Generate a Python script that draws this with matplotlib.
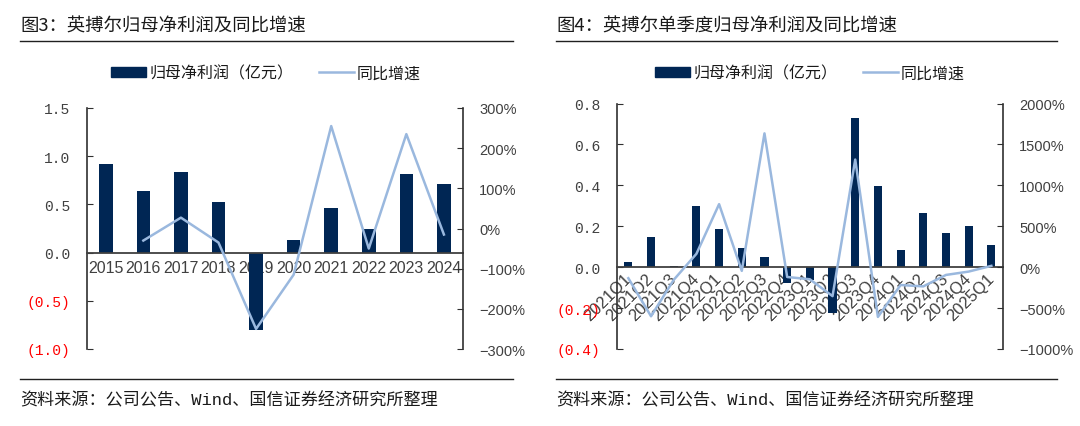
import matplotlib.pyplot as plt
import numpy as np
from matplotlib.lines import Line2D
from matplotlib.patches import Patch

# Annual data (figure 3)
years = ['2015', '2016', '2017', '2018', '2019', '2020', '2021', '2022', '2023', '2024']
annual_profit = [0.92, 0.64, 0.84, 0.53, -0.80, 0.13, 0.46, 0.25, 0.82, 0.71]
annual_yoy = [np.nan, -30, 27, -35, -250, -115, 255, -50, 235, -15]

# Quarterly data (figure 4)
quarters = ['2021Q1', '2021Q2', '2021Q3', '2021Q4', '2022Q1', '2022Q2', '2022Q3',
            '2022Q4', '2023Q1', '2023Q2', '2023Q3', '2023Q4', '2024Q1', '2024Q2',
            '2024Q3', '2024Q4', '2025Q1']
q_profit = [0.025, 0.148, 0.005, 0.30, 0.187, 0.092, 0.052, -0.078, -0.064, -0.224,
            0.73, 0.395, 0.085, 0.266, 0.167, 0.20, 0.106]
q_yoy = [-135, -600, -155, 163, 770, -45, 1635, -120, -148, -354, 1315, -608,
         -218, -235, -95, -54, 16]

left_ticks_a = [-1.0, -0.5, 0.0, 0.5, 1.0, 1.5]
left_labels_a = ['(1.0)', '(0.5)', '0.0', '0.5', '1.0', '1.5']
right_ticks_a = [-300, -200, -100, 0, 100, 200, 300]
right_labels_a = ['−300%', '−200%', '−100%', '0%', '100%', '200%', '300%']

left_ticks_b = [-0.4, -0.2, 0.0, 0.2, 0.4, 0.6, 0.8]
left_labels_b = ['(0.4)', '(0.2)', '0.0', '0.2', '0.4', '0.6', '0.8']
right_ticks_b = [-1000, -500, 0, 500, 1000, 1500, 2000]
right_labels_b = ['−1000%', '−500%', '0%', '500%', '1000%', '1500%', '2000%']

BAR = '#002654'
LINE = '#9ab8de'
TXT = '#404040'
CJK = ['Noto Sans CJK SC', 'DejaVu Sans']
MONO = ['Liberation Mono', 'Noto Sans CJK SC']
plt.rcParams['font.family'] = CJK


def draw_panel(fig, rect, cats, profit, yoy, lt, ll, rt, rl, rotate):
  ax = fig.add_axes(rect)
  x = np.arange(len(cats))
  ax.bar(x, profit, width=0.36, color=BAR, zorder=2)
  ax.set_xlim(-0.5, len(cats) - 0.5)
  ax.set_ylim(lt[0], lt[-1])
  ax.spines['top'].set_visible(False)
  ax.spines['right'].set_visible(False)
  ax.spines['bottom'].set_position(('data', 0))
  ax.spines['bottom'].set_color(TXT)
  ax.spines['bottom'].set_linewidth(1.3)
  ax.spines['bottom'].set_zorder(3)
  ax.spines['left'].set_color('#303030')
  ax.spines['left'].set_linewidth(1.2)
  ax.set_yticks(lt)
  ax.set_yticklabels(ll, family=MONO, fontsize=10.5)
  for lab, v in zip(ax.get_yticklabels(), lt):
    lab.set_color('#ff0000' if v < 0 else TXT)
  ax.tick_params(axis='y', direction='in', length=4, pad=12, color='#303030')
  ax.set_xticks(x)
  if rotate:
    # quarter labels run diagonally down-left from each bar
    ax.set_xticklabels(cats, rotation=45, ha='right', va='center',
                       rotation_mode='anchor', family=['Liberation Sans'],
                       fontsize=12, color=TXT)
    ax.tick_params(axis='x', length=0, pad=6)
  else:
    ax.set_xticklabels(cats, family=['Liberation Sans'], fontsize=11.5, color=TXT)
    ax.tick_params(axis='x', length=0, pad=5)

  ax2 = ax.twinx()
  ax2.plot(x, yoy, color=LINE, linewidth=1.8, zorder=4)
  ax2.set_ylim(rt[0], rt[-1])
  for s in ['top', 'left', 'bottom']:
    ax2.spines[s].set_visible(False)
  ax2.spines['right'].set_color('#303030')
  ax2.spines['right'].set_linewidth(1.2)
  ax2.set_yticks(rt)
  ax2.set_yticklabels(rl, family=['Liberation Sans'], fontsize=10.5, color=TXT)
  ax2.tick_params(axis='y', direction='in', length=4, pad=12, color='#303030')
  return ax, ax2


def add_frame(fig, x0, x1, title, legend_x):
  W, H = 1080, 427
  fig.text(x0 / W, 1 - 27 / H, title, fontsize=13.2, va='center', ha='left',
           color='#1a1a1a')
  fig.add_artist(Line2D([x0 / W, x1 / W], [1 - 42 / H] * 2, color='#202020', lw=1))
  fig.add_artist(Line2D([x0 / W, x1 / W], [1 - 380 / H] * 2, color='#202020', lw=1))
  fig.text(x0 / W, 1 - 400 / H, '资料来源：公司公告、Wind、国信证券经济研究所整理',
           fontsize=12.3, va='center', ha='left', color='#1a1a1a', family=MONO)
  handles = [Patch(color=BAR), Line2D([], [], color=LINE, lw=1.8)]
  fig.legend(handles, ['归母净利润（亿元）', '同比增速'], loc='center',
             bbox_to_anchor=(legend_x / W, 1 - 74 / H), ncol=2, frameon=False,
             fontsize=11.5, handlelength=2.2, handleheight=0.6, handletextpad=0.2,
             columnspacing=1.6, labelcolor='#1a1a1a')


def main():
  fig = plt.figure(figsize=(10.8, 4.27), dpi=100)
  draw_panel(fig, [87 / 1080, 1 - 350 / 427, (462.7 - 87) / 1080, (350 - 109) / 427],
             years, annual_profit, annual_yoy,
             left_ticks_a, left_labels_a, right_ticks_a, right_labels_a, False)
  draw_panel(fig, [617 / 1080, 1 - 350 / 427, (1002.7 - 617) / 1080, (350 - 104.5) / 427],
             quarters, q_profit, q_yoy,
             left_ticks_b, left_labels_b, right_ticks_b, right_labels_b, True)
  add_frame(fig, 20, 513, '图3：英搏尔归母净利润及同比增速', 266)
  add_frame(fig, 556, 1057, '图4：英搏尔单季度归母净利润及同比增速', 810)
  fig.savefig('out.png', dpi=100)
  plt.close(fig)


if __name__ == '__main__':
  main()
